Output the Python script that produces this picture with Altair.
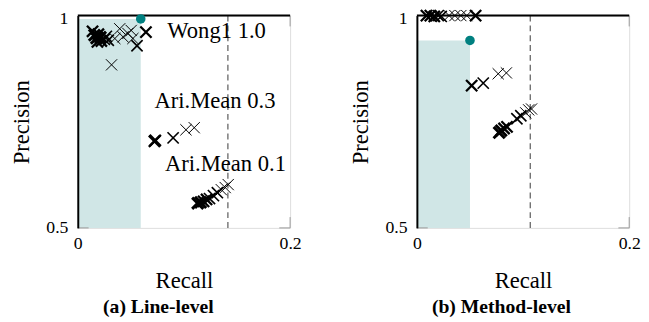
import altair as alt
import pandas as pd

FONT = "Liberation Serif"
XPATH = "M-1,-1L1,1M-1,1L1,-1"

# ---------------- data: panel (a) Line-level ----------------
a_recall = [0.0139, 0.0157, 0.0176, 0.0194, 0.0213, 0.0185, 0.0222, 0.0250, 0.0269, 0.0287,
            0.0349, 0.0395, 0.0426, 0.0472, 0.0503, 0.0519, 0.0558, 0.0642, 0.0318,
            0.0722, 0.0730, 0.0898, 0.1019, 0.1097,
            0.1130, 0.1157, 0.1185, 0.1213, 0.1241, 0.1278, 0.1315, 0.1352, 0.1389, 0.1417]
a_precision = [0.963, 0.954, 0.947, 0.956, 0.949, 0.938, 0.940, 0.944, 0.951, 0.942,
               0.946, 0.969, 0.950, 0.958, 0.965, 0.946, 0.929, 0.961, 0.884,
               0.704, 0.706, 0.712, 0.731, 0.736,
               0.558, 0.560, 0.5625, 0.567, 0.569, 0.576, 0.583, 0.590, 0.595, 0.602]
a_runs = [3, 4, 4, 3, 4, 3, 3, 2, 2, 2,
          1, 1, 1, 1, 1, 1, 2, 3, 1,
          3, 3, 2, 1, 1,
          4, 4, 3, 3, 2, 2, 2, 1, 1, 1]
a_best_recall = 0.0593
a_best_precision = 0.992
a_threshold = 0.1414
a_label_text = ["Wong1 1.0", "Ari.Mean 0.3", "Ari.Mean 0.1"]
a_label_recall = [0.0843, 0.0722, 0.0821]
a_label_precision = [0.947, 0.782, 0.635]

# ---------------- data: panel (b) Method-level ----------------
b_recall = [0.0090, 0.0127, 0.0164, 0.0201, 0.0229, 0.0303, 0.0358, 0.0414, 0.0470, 0.0553,
            0.0516, 0.0625, 0.0766, 0.0843,
            0.0775, 0.0794, 0.0821, 0.0849, 0.0942, 0.0979, 0.1025, 0.1053, 0.1080]
b_precision = [1.0, 1.0, 0.998, 1.0, 0.998, 1.0, 1.0, 1.0, 1.0, 1.0,
               0.835, 0.841, 0.863, 0.865,
               0.7245, 0.729, 0.734, 0.738, 0.757, 0.764, 0.771, 0.778, 0.780]
b_runs = [3, 3, 3, 2, 2, 1, 1, 1, 1, 3,
          3, 2, 1, 1,
          4, 4, 3, 3, 2, 2, 1, 1, 1]
b_best_recall = 0.050
b_best_precision = 0.9414
b_threshold = 0.1068
b_label_text = []
b_label_recall = []
b_label_precision = []

x_domain = [0, 0.2]
y_domain = [0.5, 1.0]
x_ticks = [0, 0.2]
y_ticks = [0.5, 1.0]

W = 216
H = 216


def panel(recall, precision, runs, best_r, best_p, thr, lt, lr, lp, caption, dx):
    xs = alt.Scale(domain=x_domain, nice=False, zero=False)
    ys = alt.Scale(domain=y_domain, nice=False, zero=False)
    xaxis = alt.Axis(values=x_ticks, format=".1~f", domain=False, ticks=False, grid=False,
                     title="Recall", labelFlush=False, labelPadding=7, titlePadding=18,
                     labelFont=FONT, titleFont=FONT, labelFontSize=18, titleFontSize=23,
                     titleFontWeight="normal", labelColor="black", titleColor="black")
    yaxis = alt.Axis(values=y_ticks, format=".1~f", domain=True, domainColor="black",
                     domainWidth=2, ticks=False, grid=False, title="Precision",
                     labelPadding=10, titlePadding=13, labelFont=FONT, titleFont=FONT,
                     labelFontSize=18, titleFontSize=23, titleFontWeight="normal",
                     labelColor="black", titleColor="black", zindex=1,
                     labelOffset={"condition": {"test": "datum.value == 1", "value": 3}, "value": 0})

    pts = pd.DataFrame({"recall": recall, "precision": precision, "runs": runs})
    best = pd.DataFrame({"r0": [x_domain[0]], "r": [best_r], "p0": [y_domain[0]], "p": [best_p]})
    thr_df = pd.DataFrame({"t": [thr], "p0": [y_domain[0]], "p1": [y_domain[1]]})
    frame = pd.DataFrame({"x0": [x_domain[0]], "x1": [x_domain[1]], "y": [y_domain[1]]})
    corner_x = pd.DataFrame({"x": [x_domain[1]]})
    corner_y = pd.DataFrame({"y": [y_domain[0]]})
    labels = pd.DataFrame({"text": lt, "recall": lr, "precision": lp})

    base_x = alt.X("r0:Q", scale=xs, axis=xaxis)
    rect = alt.Chart(best).mark_rect(color="#d0e6e6").encode(
        x=base_x, x2="r:Q",
        y=alt.Y("p0:Q", scale=ys, axis=yaxis), y2="p:Q")
    dash = alt.Chart(thr_df).mark_rule(color="#666666", strokeWidth=1.3, strokeDash=[6, 4]).encode(
        x=alt.X("t:Q", scale=xs), y=alt.Y("p0:Q", scale=ys), y2="p1:Q")
    top = alt.Chart(frame).mark_rule(color="black", strokeWidth=2).encode(
        x=alt.X("x0:Q", scale=xs), x2="x1:Q", y=alt.Y("y:Q", scale=ys))
    tk_bottom = alt.Chart(corner_x).mark_rule(color="#9a9a9a", strokeWidth=1).encode(
        x=alt.X("x:Q", scale=xs), y=alt.value(H), y2=alt.value(H - 11))
    tk_top = alt.Chart(corner_x).mark_rule(color="#9a9a9a", strokeWidth=1).encode(
        x=alt.X("x:Q", scale=xs), y=alt.value(0), y2=alt.value(11))
    tk_left = alt.Chart(corner_y).mark_rule(color="#9a9a9a", strokeWidth=1).encode(
        y=alt.Y("y:Q", scale=ys), x=alt.value(0), x2=alt.value(11))
    tk_right = alt.Chart(corner_y).mark_rule(color="#9a9a9a", strokeWidth=1).encode(
        y=alt.Y("y:Q", scale=ys), x=alt.value(W), x2=alt.value(W - 11))
    marks = alt.Chart(pts).mark_point(shape=XPATH, filled=False, color="black", size=130, opacity=1,
                                      strokeJoin="round").encode(
        x=alt.X("recall:Q", scale=xs), y=alt.Y("precision:Q", scale=ys),
        strokeWidth=alt.StrokeWidth("runs:Q", scale=alt.Scale(domain=[1, 4], range=[1.0, 3.0]), legend=None))
    dot = alt.Chart(best).mark_circle(color="#008080", size=95, opacity=1).encode(
        x=alt.X("r:Q", scale=xs), y=alt.Y("p:Q", scale=ys))
    layers = [rect, dash, tk_bottom, tk_top, tk_left, tk_right, top, marks, dot]
    if len(lt):
        txt = alt.Chart(labels).mark_text(align="left", baseline="alphabetic", font=FONT,
                                          fontSize=23, color="black").encode(
            x=alt.X("recall:Q", scale=xs), y=alt.Y("precision:Q", scale=ys), text="text:N")
        layers.append(txt)
    return alt.layer(*layers).properties(
        width=W, height=H,
        title=alt.TitleParams(caption, orient="bottom", anchor="middle", frame="group",
                              font=FONT, fontSize=20, fontWeight="bold", color="black",
                              offset=5, dx=dx))


pa = panel(a_recall, a_precision, a_runs, a_best_recall, a_best_precision, a_threshold,
           a_label_text, a_label_recall, a_label_precision, "(a) Line-level", -26)
pb = panel(b_recall, b_precision, b_runs, b_best_recall, b_best_precision, b_threshold,
           b_label_text, b_label_recall, b_label_precision, "(b) Method-level", -22)

chart = alt.hconcat(pa, pb, spacing=48).properties(
    padding={"left": 2, "top": -3, "right": 0, "bottom": 0}
).configure_view(stroke=None).configure(background="white")

chart.save("out.html", embed_options={"renderer": "svg", "actions": False})
